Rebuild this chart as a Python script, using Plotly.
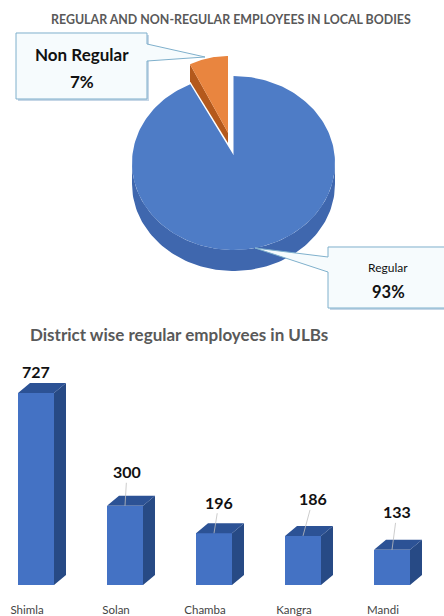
import numpy as np
import plotly.graph_objects as go

pie_labels = ["Regular", "Non Regular"]
pie_values = [93, 7]
districts = ["Shimla", "Solan", "Chamba", "Kangra", "Mandi"]
employees = [727, 300, 196, 186, 133]

W, H = 444, 616
FONT = "Lato"
BLUE, BLUE_SIDE, BLUE_TOP = "#4472C4", "#274A85", "#2C5295"
PIE_BLUE, PIE_BLUE_DARK = "#4E7CC6", "#3F67AE"
ORANGE, ORANGE_DARK = "#E9853F", "#B4591C"

fig = go.Figure()

# ---------- pie (unit circle on anisotropic axes) ----------
cx, cy, rx, ry = 233.5, 163, 101.5, 87
depth = 21 / ry
frac = pie_values[1] / sum(pie_values)
a_split = 2 * np.pi * frac
a = np.linspace(0, 2 * np.pi - a_split, 200)   # clockwise from 12 o'clock


def arc(t, ox=0.0, oy=0.0, sx=1.0):
    return ox + sx * np.sin(t), oy + np.cos(t)


# blue wall
t = np.linspace(np.pi / 2, 3 * np.pi / 2, 100)
xs, ys = arc(t)
fig.add_trace(go.Scatter(
    x=np.r_[xs, xs[::-1]], y=np.r_[ys, ys[::-1] - depth], fill="toself", mode="lines",
    line=dict(width=0), fillcolor=PIE_BLUE_DARK, xaxis="x2", yaxis="y2",
    hoverinfo="skip", showlegend=False))
# blue top
xs, ys = arc(a)
apex_y = 8 / ry
fig.add_trace(go.Scatter(
    x=np.r_[xs, 0, xs[0]], y=np.r_[ys, apex_y, ys[0]], fill="toself", mode="lines",
    line=dict(width=0), fillcolor=PIE_BLUE, xaxis="x2", yaxis="y2",
    name=pie_labels[0], showlegend=False))
# orange exploded slice
ox, oy = (228 - cx) / rx, (cy - 143) / ry
t = np.linspace(-a_split, 0, 40)
xs, ys = arc(t, ox, oy, sx=0.88)
wall = 17 / ry
fig.add_trace(go.Scatter(
    x=[xs[0], xs[0], ox, ox, xs[0]], y=[ys[0], ys[0] - wall, oy, oy + wall * .6, ys[0]],
    fill="toself", mode="lines", line=dict(width=0), fillcolor=ORANGE_DARK,
    xaxis="x2", yaxis="y2", hoverinfo="skip", showlegend=False))
fig.add_trace(go.Scatter(
    x=np.r_[xs, ox, xs[0]], y=np.r_[ys, oy + wall * .6, ys[0]], fill="toself", mode="lines",
    line=dict(width=0), fillcolor=ORANGE, xaxis="x2", yaxis="y2",
    name=pie_labels[1], showlegend=False))

# ---------- bars ----------
pitch = 89.0
y_scale = 192 / 727
bw = 36 / pitch
dx, dy = 12 / pitch, 10 / y_scale
idx = list(range(len(districts)))
sx, sy, tx, ty = [], [], [], []
for i, v in zip(idx, employees):
    r, l = i + bw / 2, i - bw / 2
    sx += [r, r + dx, r + dx, r, r, None]
    sy += [0, dy, v + dy, v, 0, None]
    tx += [l, l + dx, r + dx, r, l, None]
    ty += [v, v + dy, v + dy, v, v, None]
fig.add_trace(go.Scatter(x=sx, y=sy, fill="toself", mode="lines", line=dict(width=0),
                         fillcolor=BLUE_SIDE, hoverinfo="skip", showlegend=False))
fig.add_trace(go.Scatter(x=tx, y=ty, fill="toself", mode="lines", line=dict(width=0),
                         fillcolor=BLUE_TOP, hoverinfo="skip", showlegend=False))
fig.add_trace(go.Bar(x=idx, y=employees, width=bw, marker=dict(color=BLUE, line=dict(width=0)),
                     showlegend=False))

# ---------- callouts ----------
BOX, EDGE, SHADOW = "#F6FBFD", "#7FB0CC", "#C5D6E6"


def path(pts):
    return "M " + " L ".join(f"{x / W:.5f},{1 - y / H:.5f}" for x, y in pts) + " Z"


def callout(l, t, r, b, wedge):
    return [
        dict(type="path", xref="paper", yref="paper", layer="above",
             path=path([(l + 2, t + 2), (r + 2, t + 2), (r + 2, b + 2), (l + 2, b + 2)]),
             fillcolor=SHADOW, line=dict(width=0)),
        dict(type="path", xref="paper", yref="paper", layer="above",
             path=path(wedge), fillcolor=BOX, line=dict(color=EDGE, width=1)),
    ]


shapes = []
shapes += callout(16, 33, 147, 99,
                  [(16, 33), (147, 33), (147, 44), (205, 57), (147, 61), (147, 99), (16, 99)])
shapes += callout(328, 247, 450, 308,
                  [(328, 247), (450, 247), (450, 308), (328, 308), (328, 272), (255, 248), (328, 257)])

ann = []


def text(x, y, s, size, color="#111111", bold=True):
    ann.append(dict(xref="paper", yref="paper", x=x / W, y=1 - y / H, text=f"<b>{s}</b>" if bold else s,
                    showarrow=False, xanchor="center", yanchor="middle",
                    font=dict(family=FONT, size=size, color=color)))


text(231, 19, "REGULAR AND NON-REGULAR EMPLOYEES IN LOCAL BODIES", 12.4, "#595959")
text(179, 334, "District wise regular employees in ULBs", 17, "#595959")
text(82, 54, pie_labels[1], 17)
text(82, 81, f"{pie_values[1]}%", 17)
text(388, 267, pie_labels[0], 12, bold=False)
text(388, 292, f"{pie_values[0]}%", 16.5)

# value labels with leader lines: (pixel offset of label from bar-top centre)
offsets = [(0, -22), (2, -34), (5, -31), (10, -37), (5, -38)]
for i, v, (ax, ay) in zip(idx, employees, offsets):
    ann.append(dict(x=i, y=v, xref="x", yref="y", text=f"<b>{v}</b>", showarrow=i > 0,
                    arrowhead=0, arrowwidth=0.8, arrowcolor="#BFBFBF", ax=ax, ay=ay,
                    xshift=0 if i else ax, yshift=0 if i else -ay,
                    font=dict(family=FONT, size=16, color="#111111")))

x0 = -36 / pitch
fig.update_layout(
    width=W, height=H, autosize=False, margin=dict(l=0, r=0, t=0, b=0, autoexpand=False),
    paper_bgcolor="white", plot_bgcolor="rgba(0,0,0,0)", showlegend=False,
    shapes=shapes, annotations=ann, bargap=0,
    xaxis=dict(domain=[0, 1], range=[x0, x0 + W / pitch], tickmode="array", tickvals=idx,
               ticktext=districts, ticklabelshift=-9, ticks="", showgrid=False, zeroline=False,
               showline=False, tickfont=dict(family=FONT, size=11.5, color="#444444"),
               ticklabelstandoff=16, automargin=False),
    yaxis=dict(domain=[(H - 585) / H, (H - 345) / H], range=[0, 240 / y_scale], visible=False,
               showgrid=False, zeroline=False),
    xaxis2=dict(domain=[0, 1], range=[-cx / rx, (W - cx) / rx], visible=False, anchor="y2"),
    yaxis2=dict(domain=[(H - 300) / H, (H - 30) / H], range=[(cy - 300) / ry, (cy - 30) / ry],
                visible=False, anchor="x2"),
)
fig.write_html("out.html", config={"displayModeBar": False},
               post_script="document.body.style.margin='0';")
